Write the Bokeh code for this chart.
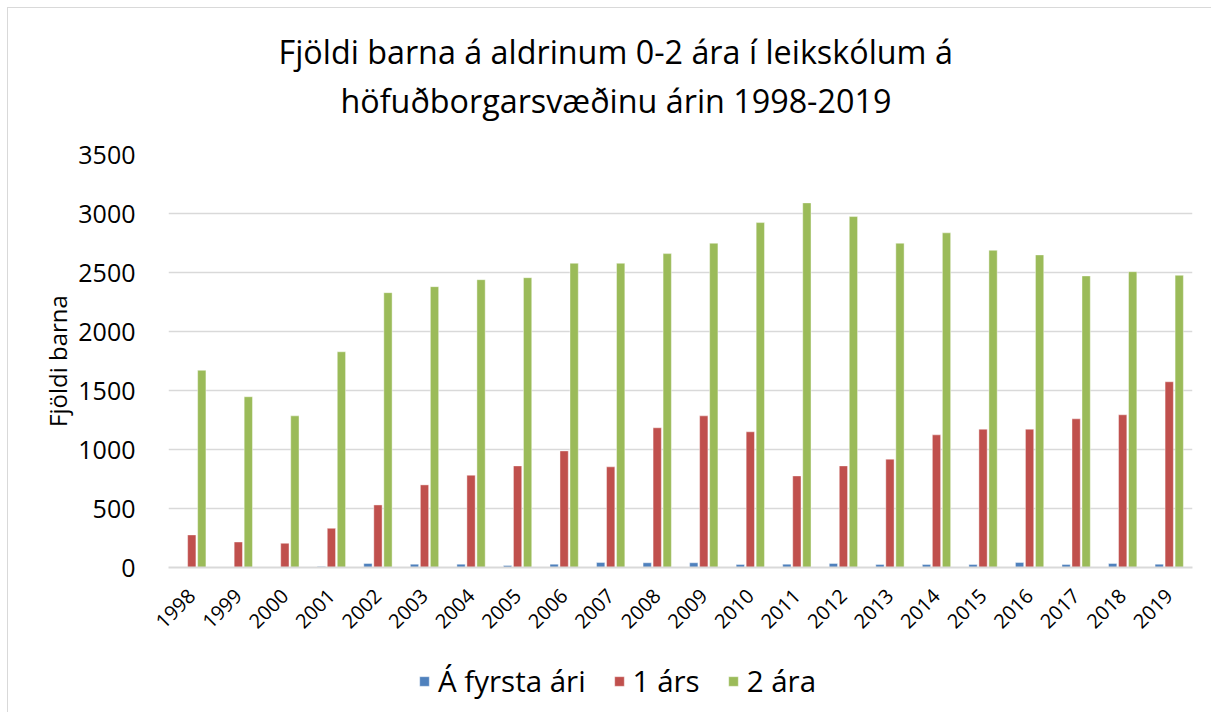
from bokeh.plotting import figure
from bokeh.layouts import column
from bokeh.models import (ColumnDataSource, Legend, LegendItem, Title, Range1d,
                          FactorRange, SingleIntervalTicker)
from bokeh.transform import dodge
from bokeh.embed import file_html
from bokeh.resources import INLINE
from math import pi

# ---- data ----
years = ["1998", "1999", "2000", "2001", "2002", "2003", "2004", "2005", "2006", "2007", "2008",
         "2009", "2010", "2011", "2012", "2013", "2014", "2015", "2016", "2017", "2018", "2019"]
first_year = [0, 0, 0, 8, 34, 28, 28, 17, 28, 42, 40, 40, 25, 28, 34, 25, 25, 25, 42, 25, 34, 28]
one_year = [276, 216, 205, 332, 530, 700, 782, 861, 988, 853, 1184,
            1285, 1150, 776, 861, 918, 1124, 1172, 1172, 1260, 1294, 1574]
two_years = [1671, 1447, 1285, 1828, 2329, 2380, 2439, 2456, 2578, 2578, 2660,
             2748, 2923, 3090, 2974, 2748, 2836, 2688, 2649, 2471, 2507, 2476]
series_names = ["Á fyrsta ári", "1 árs", "2 ára"]
colors = ["#4f81bd", "#c0504d", "#9bbb59"]
title_lines = ["Fjöldi barna á aldrinum 0-2 ára í leikskólum á",
               "höfuðborgarsvæðinu árin 1998-2019"]
y_label = "Fjöldi barna"

FONT = "Open Sans"

src = ColumnDataSource(dict(year=years, a=first_year, b=one_year, c=two_years))
xr = FactorRange(*years, range_padding=0)

p = figure(x_range=xr, y_range=Range1d(0, 3500),
           width=1211, height=650, output_backend="svg", toolbar_location=None,
           min_border_left=168, min_border_right=19, min_border_top=154, min_border_bottom=83)
p.styles = {"box-shadow": "inset 7px 7px 0 0 #ffffff, inset 8px 8px 0 0 #d9d9d9"}
p.border_fill_alpha = 0
p.outline_line_color = None

bw = 0.178
step = 0.215
cols = ["a", "b", "c"]
offsets = [-step, 0, step]
for col, off, c in zip(cols, offsets, colors):
    p.vbar(x=dodge("year", off, range=xr), top=col, width=bw, source=src,
           fill_color=c, line_color="white", line_width=0.6, line_alpha=0.7)

# axes
p.yaxis.ticker = SingleIntervalTicker(interval=500)
p.yaxis.axis_line_color = None
p.yaxis.major_tick_line_color = None
p.yaxis.minor_tick_line_color = None
p.yaxis.major_label_text_font = FONT
p.yaxis.major_label_text_font_size = "25px"
p.yaxis.major_label_text_color = "#000000"
p.yaxis.major_label_standoff = 27
p.yaxis.axis_label = y_label
p.yaxis.axis_label_text_font = FONT
p.yaxis.axis_label_text_font_size = "24px"
p.yaxis.axis_label_text_font_style = "normal"
p.yaxis.axis_label_text_color = "#000000"
p.yaxis.axis_label_standoff = 1

p.xaxis.axis_line_color = "#d9d9d9"
p.xaxis.axis_line_width = 2
p.xaxis.major_tick_line_color = None
p.xaxis.minor_tick_line_color = None
p.xaxis.major_label_orientation = pi / 4
p.xaxis.major_label_text_font = FONT
p.xaxis.major_label_text_font_size = "20px"
p.xaxis.major_label_text_color = "#000000"
p.xaxis.major_label_standoff = 19

p.xgrid.grid_line_color = None
p.ygrid.grid_line_color = "#d9d9d9"
p.ygrid.grid_line_width = 1.5

# title: spacer, then second line, then first line (stacked upward from the frame)
p.add_layout(Title(text=" ", text_font=FONT, text_font_size="10px", standoff=17), "above")
p.add_layout(Title(text=title_lines[1], align="left", offset=172, standoff=0,
                   text_font=FONT, text_font_size="32.3px", text_font_style="normal",
                   text_color="#000000"), "above")
p.add_layout(Title(text=title_lines[0], align="left", offset=110, standoff=6,
                   text_font=FONT, text_font_size="32.3px", text_font_style="normal",
                   text_color="#000000"), "above")

# legend strip below the chart (same series, renderers hidden, only the legend shows)
lg = figure(width=1211, height=62, output_backend="svg", toolbar_location=None,
            x_range=xr, y_range=Range1d(-2, -1),
            min_border_left=168, min_border_right=19, min_border_top=0, min_border_bottom=0)
lg.styles = {"box-shadow": "inset 7px 0 0 0 #ffffff, inset 8px 0 0 0 #d9d9d9"}
lg.border_fill_alpha = 0
lg.background_fill_alpha = 0
lg.outline_line_color = None
lg.axis.visible = False
lg.grid.visible = False
lg_renderers = [lg.vbar(x=dodge("year", off, range=xr), top=col, width=bw, source=src,
                        fill_color=c, line_color="white", line_width=0.6, line_alpha=0.7,
                        visible=False)
                for col, off, c in zip(cols, offsets, colors)]
legend = Legend(items=[LegendItem(label=n, renderers=[r]) for n, r in zip(series_names, lg_renderers)],
                orientation="horizontal", location=(250, 11),
                label_text_font=FONT, label_text_font_size="29.5px", label_text_color="#000000",
                glyph_width=12, glyph_height=12, label_standoff=8, spacing=27,
                padding=0, margin=0, border_line_color=None, background_fill_alpha=0,
                inactive_fill_alpha=0)
lg.add_layout(legend, "center")

layout = column(p, lg, spacing=0)
open("out.html", "w").write(file_html(layout, INLINE))
